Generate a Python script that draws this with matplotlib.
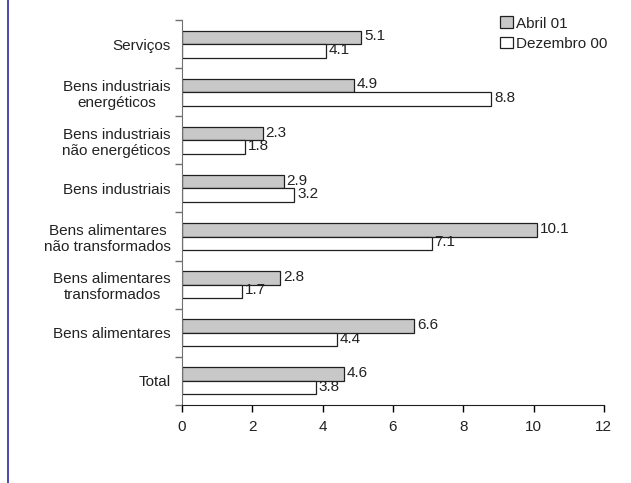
import matplotlib.pyplot as plt
import numpy as np
from matplotlib.lines import Line2D

plt.rcParams['font.family'] = ['Liberation Sans', 'DejaVu Sans']

categorias = ['Total', 'Bens alimentares', 'Bens alimentares\ntransformados',
              'Bens alimentares\nnão transformados', 'Bens industriais',
              'Bens industriais\nnão energéticos', 'Bens industriais\nenergéticos',
              'Serviços']
abril_01 = [4.6, 6.6, 2.8, 10.1, 2.9, 2.3, 4.9, 5.1]
dezembro_00 = [3.8, 4.4, 1.7, 7.1, 3.2, 1.8, 8.8, 4.1]

fig = plt.figure(figsize=(6.31, 4.83), dpi=100)
ax = fig.add_axes([0.2884, 0.1615, 0.9570 - 0.2884, 0.9586 - 0.1615])

fs = 11
cor_txt = '#222222'
y = np.arange(len(categorias))
h = 0.28
ax.barh(y + h / 2, abril_01, height=h, color='#c8c8c8', edgecolor='#202020',
        linewidth=0.9, label='Abril 01')
ax.barh(y - h / 2, dezembro_00, height=h, color='white', edgecolor='#202020',
        linewidth=0.9, label='Dezembro 00')

# valores ao lado de cada barra
for i in range(len(categorias)):
    ax.text(abril_01[i] + 0.08, y[i] + h / 2 + 0.02, f'{abril_01[i]:.1f}',
            va='center', ha='left', fontsize=fs, color=cor_txt)
    ax.text(dezembro_00[i] + 0.08, y[i] - h / 2 + 0.02, f'{dezembro_00[i]:.1f}',
            va='center', ha='left', fontsize=fs, color=cor_txt)

ax.set_xlim(0, 12)
ax.set_ylim(-0.5, len(categorias) - 0.5)
ax.set_xticks(range(0, 13, 2))
ax.set_yticks(y)
ax.set_yticklabels(categorias, fontsize=fs, color=cor_txt)
ax.tick_params(axis='y', which='major', length=0, pad=8)
ax.set_yticks(np.arange(-0.5, len(categorias), 1), minor=True)
ax.tick_params(axis='y', which='minor', length=5, color='#707070', width=1)
ax.tick_params(axis='x', length=5, width=1, labelsize=fs, pad=6,
               labelcolor=cor_txt)
for lab in ax.get_yticklabels():
    lab.set_multialignment('center')

for s in ['top', 'right']:
    ax.spines[s].set_visible(False)
ax.spines['left'].set_color('#707070')
ax.spines['bottom'].set_color('#202020')

leg = ax.legend(loc='upper right', bbox_to_anchor=(1.04, 1.045), frameon=False,
                fontsize=fs, handlelength=0.8, handleheight=0.8,
                handletextpad=0.2, labelspacing=0.4)
for t in leg.get_texts():
    t.set_color(cor_txt)

# linha vertical azul na margem esquerda
fig.add_artist(Line2D([0.013, 0.013], [0.0, 1.0], color='#2a2aa0', linewidth=1.2))

fig.savefig('out.png', dpi=100)
